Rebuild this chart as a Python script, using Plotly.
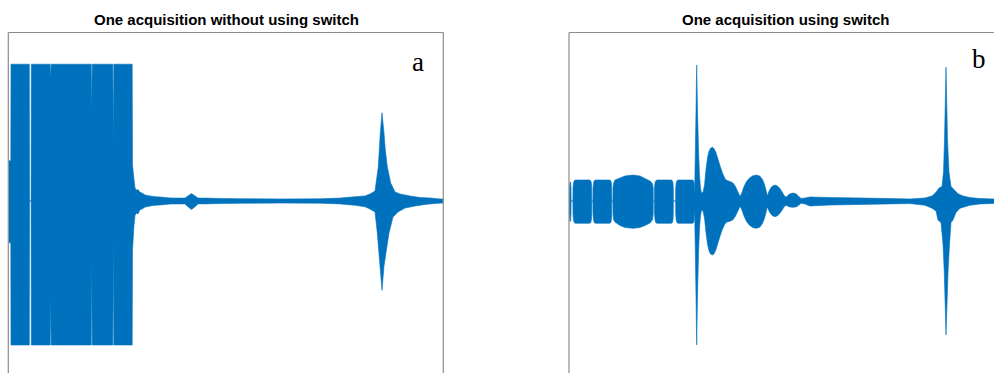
import plotly.graph_objects as go

# ---------------------------------------------------------------
# Signal envelopes (amplitude, normalised to ADC full scale) vs. time (µs)
# Each acquisition is drawn as the band between its upper and lower envelope.
# ---------------------------------------------------------------

# (a) one acquisition without using switch
a_up_t = [0.0, 1.8, 2.0, 20.3, 20.5, 22.1, 22.3, 41.2, 41.7, 42.2, 82.2, 82.7, 83.2,
          103.8, 104.3, 104.8, 123.2, 123.5, 125.0, 126.0, 127.5, 129.0, 131.0, 133.0,
          136.0, 141.0, 146.0, 151.0, 161.0, 171.0, 176.0, 179.0, 182.5, 186.0, 189.0,
          196.0, 211.0, 231.0, 271.0, 311.0, 331.0, 346.0, 356.0, 361.0, 366.0, 369.3,
          371.3, 373.0, 375.0, 376.3, 378.3, 381.7, 386.0, 391.0, 401.0, 411.0, 421.0,
          431.0, 434.0]
a_up_v = [0.28, 0.28, 0.95, 0.95, 0.0, 0.0, 0.95, 0.95, 0.85, 0.95, 0.95, 0.63, 0.95,
          0.95, 0.40, 0.95, 0.95, 0.25, 0.15, 0.09, 0.075, 0.08, 0.06, 0.055,
          0.042, 0.035, 0.03, 0.028, 0.021, 0.02, 0.02, 0.035, 0.052, 0.035, 0.02,
          0.02, 0.018, 0.016, 0.014, 0.015, 0.02, 0.03, 0.035, 0.049, 0.069, 0.238,
          0.472, 0.613, 0.472, 0.354, 0.238, 0.125, 0.063, 0.049, 0.035, 0.024, 0.021,
          0.014, 0.014]
a_low_t = [0.0, 1.8, 2.0, 20.3, 20.5, 22.1, 22.3, 41.2, 41.7, 42.2, 82.2, 82.7, 83.2,
           103.8, 104.3, 104.8, 123.2, 123.5, 125.0, 126.0, 127.5, 129.0, 131.0, 133.0,
           136.0, 141.0, 146.0, 151.0, 161.0, 171.0, 176.0, 179.0, 182.5, 186.0, 189.0,
           196.0, 211.0, 231.0, 271.0, 311.0, 331.0, 346.0, 356.0, 361.0, 366.0, 368.3,
           371.0, 373.0, 375.0, 380.0, 384.0, 389.0, 396.0, 406.0, 416.0, 426.0, 434.0]
a_low_v = [-0.29, -0.29, -1.0, -1.0, 0.0, 0.0, -1.0, -1.0, -0.667, -1.0, -1.0, -0.40, -1.0,
           -1.0, -0.25, -1.0, -1.0, -0.34, -0.167, -0.10, -0.083, -0.09, -0.06, -0.056,
           -0.042, -0.035, -0.03, -0.028, -0.021, -0.02, -0.02, -0.04, -0.059, -0.04, -0.02,
           -0.02, -0.018, -0.016, -0.014, -0.015, -0.02, -0.03, -0.04, -0.056, -0.076, -0.222,
           -0.451, -0.62, -0.451, -0.222, -0.111, -0.076, -0.049, -0.035, -0.024, -0.017, -0.014]

# (b) one acquisition using switch
b_up_t = [0.3, 0.4, 0.9, 1.6, 2.0, 2.1,
          3.9, 4.0, 4.5, 5.2, 6.5, 20.5, 21.8, 22.4, 22.7, 22.8,
          23.9, 24.0, 24.5, 25.2, 26.5, 40.5, 41.8, 42.4, 42.7, 42.8,
          43.9, 44.0, 44.6, 46.0, 51.0, 56.0, 64.0, 71.0, 76.0, 81.0, 83.5, 84.2, 84.3,
          85.4, 85.5, 86.0, 86.7, 88.0, 102.3, 103.4, 104.0, 104.3, 104.4,
          106.6, 106.7, 107.2, 107.9, 109.2, 123.5, 124.6, 125.1, 125.3,
          125.6, 126.2, 127.0, 127.7, 128.5, 129.5, 130.5, 131.5, 132.5,
          134.0, 135.5, 137.0, 138.5, 140.0, 141.5, 143.3, 145.0, 147.0, 149.0, 151.0,
          153.5, 156.0, 158.0, 161.0, 164.0, 166.5, 168.5, 170.5, 171.5,
          173.0, 175.0, 177.5, 180.5, 184.0, 187.7, 191.0, 193.5, 195.5, 197.0, 198.3,
          199.5, 201.5, 203.5, 206.0, 208.5, 210.5, 213.0, 215.0, 217.0,
          219.0, 221.0, 224.3, 227.5, 230.0, 232.0,
          236.0, 241.0, 261.0, 291.0, 321.0, 341.0, 356.0, 363.0, 367.0, 370.0, 373.0,
          374.5, 375.5, 377.0, 378.5, 380.0, 382.0, 385.0, 389.0, 394.0, 401.0, 411.0, 425.0]
b_up_v = [0.0, 0.09, 0.13, 0.13, 0.09, 0.0,
          0.0, 0.09, 0.125, 0.14, 0.146, 0.146, 0.14, 0.125, 0.09, 0.0,
          0.0, 0.09, 0.125, 0.14, 0.146, 0.146, 0.14, 0.125, 0.09, 0.0,
          0.0, 0.09, 0.125, 0.146, 0.16, 0.174, 0.18, 0.174, 0.156, 0.139, 0.12, 0.09, 0.0,
          0.0, 0.09, 0.125, 0.14, 0.146, 0.146, 0.14, 0.125, 0.09, 0.0,
          0.0, 0.09, 0.125, 0.14, 0.146, 0.146, 0.14, 0.125, 0.09,
          0.04, 0.285, 0.63, 0.944, 0.63, 0.354, 0.18, 0.09, 0.056,
          0.06, 0.11, 0.22, 0.30, 0.345, 0.366, 0.373, 0.365, 0.335, 0.29, 0.245,
          0.195, 0.155, 0.142, 0.136, 0.125, 0.10, 0.07, 0.04, 0.035,
          0.06, 0.10, 0.135, 0.16, 0.176, 0.18, 0.172, 0.15, 0.115, 0.075, 0.035,
          0.06, 0.088, 0.104, 0.111, 0.104, 0.09, 0.065, 0.04, 0.026,
          0.04, 0.05, 0.056, 0.048, 0.03, 0.018,
          0.021, 0.028, 0.024, 0.021, 0.017, 0.014, 0.021, 0.035, 0.06, 0.09, 0.1,
          0.2, 0.424, 0.93, 0.424, 0.2, 0.1, 0.08, 0.05, 0.035, 0.024, 0.017, 0.014]
b_low_t = [0.3, 0.4, 0.9, 1.6, 2.0, 2.1,
           3.9, 4.0, 4.5, 5.2, 6.5, 20.5, 21.8, 22.4, 22.7, 22.8,
           23.9, 24.0, 24.5, 25.2, 26.5, 40.5, 41.8, 42.4, 42.7, 42.8,
           43.9, 44.0, 44.6, 46.0, 51.0, 56.0, 64.0, 71.0, 76.0, 81.0, 83.5, 84.2, 84.3,
           85.4, 85.5, 86.0, 86.7, 88.0, 102.3, 103.4, 104.0, 104.3, 104.4,
           106.6, 106.7, 107.2, 107.9, 109.2, 123.5, 124.6, 125.1, 125.3,
           125.6, 126.2, 127.0, 127.7, 128.5, 129.5, 130.5, 131.5, 132.5,
           134.0, 135.5, 137.0, 138.5, 140.0, 141.5, 143.3, 145.0, 147.0, 149.0, 151.0,
           153.5, 156.0, 158.0, 161.0, 164.0, 166.5, 168.5, 170.5, 171.5,
           173.0, 175.0, 177.5, 180.5, 184.0, 187.7, 191.0, 193.5, 195.5, 197.0, 198.3,
           199.5, 201.5, 203.5, 206.0, 208.5, 210.5, 213.0, 215.0, 217.0,
           219.0, 221.0, 224.3, 227.5, 230.0, 232.0,
           236.0, 241.0, 261.0, 291.0, 321.0, 341.0, 356.0, 363.0, 367.0, 369.0, 372.0,
           374.0, 375.3, 377.0, 379.0, 380.5, 382.0, 384.0, 387.0, 391.0, 401.0, 411.0, 425.0]
b_low_v = [0.0, -0.09, -0.14, -0.14, -0.09, 0.0,
           0.0, -0.09, -0.13, -0.15, -0.155, -0.155, -0.15, -0.13, -0.09, 0.0,
           0.0, -0.09, -0.13, -0.15, -0.155, -0.155, -0.15, -0.13, -0.09, 0.0,
           0.0, -0.09, -0.13, -0.146, -0.17, -0.184, -0.19, -0.184, -0.17, -0.153, -0.13, -0.09, 0.0,
           0.0, -0.09, -0.13, -0.15, -0.155, -0.155, -0.15, -0.13, -0.09, 0.0,
           0.0, -0.09, -0.13, -0.15, -0.155, -0.155, -0.15, -0.13, -0.09,
           -0.05, -0.3, -0.66, -1.0, -0.66, -0.37, -0.19, -0.1, -0.065,
           -0.07, -0.12, -0.22, -0.30, -0.345, -0.368, -0.375, -0.367, -0.337, -0.29, -0.245,
           -0.195, -0.158, -0.145, -0.14, -0.13, -0.105, -0.075, -0.045, -0.04,
           -0.065, -0.105, -0.142, -0.168, -0.185, -0.19, -0.18, -0.157, -0.12, -0.08, -0.04,
           -0.062, -0.088, -0.103, -0.109, -0.102, -0.088, -0.064, -0.042, -0.03,
           -0.036, -0.042, -0.044, -0.04, -0.028, -0.016,
           -0.021, -0.035, -0.028, -0.024, -0.02, -0.018, -0.03, -0.05, -0.07, -0.132, -0.15,
           -0.3, -0.5, -0.93, -0.5, -0.3, -0.15, -0.132, -0.08, -0.05, -0.03, -0.02, -0.017]

titles = ["One acquisition without using switch", "One acquisition using switch"]
panel_labels = ["a", "b"]

W, H = 994, 373
BLUE = "#0072BD"
FRAME = "#8c8c8c"


def band(t_up, v_up, t_low, v_low):
    """Closed outline: upper envelope left->right, lower envelope right->left."""
    return list(t_up) + list(t_low)[::-1], list(v_up) + list(v_low)[::-1]


fig = go.Figure()

for (tu, vu, tl, vl), ax in [((a_up_t, a_up_v, a_low_t, a_low_v), ("x", "y")),
                             ((b_up_t, b_up_v, b_low_t, b_low_v), ("x2", "y2"))]:
    xs, ys = band(tu, vu, tl, vl)
    fig.add_trace(go.Scatter(
        x=xs, y=ys, mode="lines", fill="toself",
        fillcolor=BLUE, line=dict(color=BLUE, width=0.6, simplify=False),
        xaxis=ax[0], yaxis=ax[1], hoverinfo="skip", showlegend=False,
    ))

# pixel helpers for paper coordinates
px = lambda v: v / W
py = lambda v: 1 - v / H

top = 32.5
y_dom = [0, py(top)]
y_rng = [-(H - 201) / 144, (201 - top) / 144]

axis_common = dict(showgrid=False, zeroline=False, showticklabels=False,
                   ticks="", showline=False, fixedrange=True)
fig.update_layout(
    width=W, height=H,
    margin=dict(l=0, r=0, t=0, b=0),
    paper_bgcolor="white", plot_bgcolor="white",
    xaxis=dict(domain=[px(8.5), px(443.5)], range=[-0.5, 434.5], **axis_common),
    yaxis=dict(domain=y_dom, range=y_rng, **axis_common),
    xaxis2=dict(domain=[px(568.5), 1], range=[-0.5, 425], anchor="y2", **axis_common),
    yaxis2=dict(domain=y_dom, range=y_rng, anchor="x2", **axis_common),
)

# axes frames (bottom and far right edges lie outside the page)
frame = dict(type="line", xref="paper", yref="paper",
             line=dict(color=FRAME, width=1.2), layer="above")
for x0, x1 in [(8.3, 443.3)]:
    fig.add_shape(x0=px(x0), x1=px(x1), y0=py(top), y1=py(top), **frame)
    fig.add_shape(x0=px(x0), x1=px(x0), y0=-0.1, y1=py(top), **frame)
    fig.add_shape(x0=px(x1), x1=px(x1), y0=-0.1, y1=py(top), **frame)
fig.add_shape(x0=px(569), x1=1.05, y0=py(top), y1=py(top), **frame)
fig.add_shape(x0=px(569), x1=px(569), y0=-0.1, y1=py(top), **frame)

# titles
for title, xc in zip(titles, [226, 786]):
    fig.add_annotation(text=f"<b>{title}</b>", xref="paper", yref="paper",
                       x=px(xc), y=py(19), xanchor="center", yanchor="middle",
                       showarrow=False,
                       font=dict(family="Liberation Sans, Arial", size=15, color="black"))

# panel letters
for lab, (xc, yc) in zip(panel_labels, [(417.5, 62), (978.5, 58.5)]):
    fig.add_annotation(text=lab, xref="paper", yref="paper",
                       x=px(xc), y=py(yc), xanchor="center", yanchor="middle",
                       showarrow=False,
                       font=dict(family="Liberation Serif, Times New Roman", size=27,
                                 color="black"))

fig.write_html("out.html")
